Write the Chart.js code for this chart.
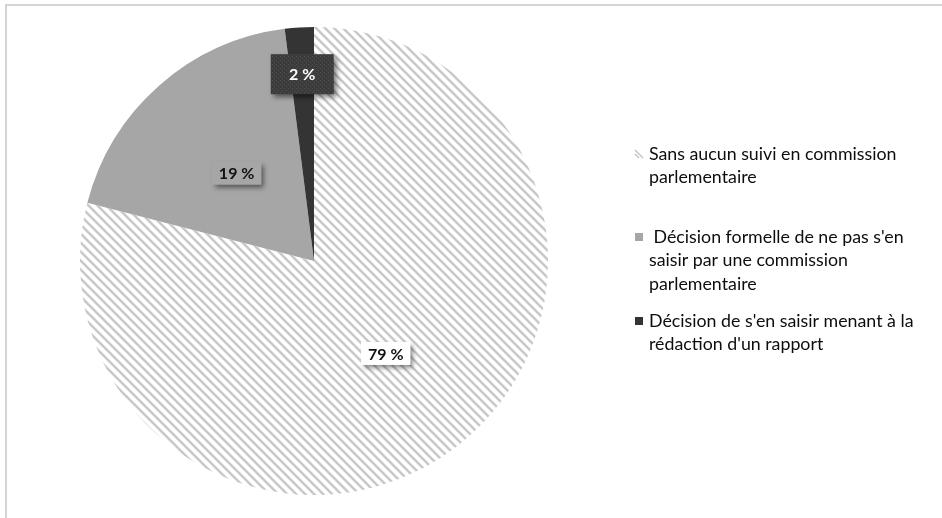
<!DOCTYPE html>
<html>
<head>
<meta charset="utf-8">
<script src="https://cdn.jsdelivr.net/npm/chart.js@4/dist/chart.umd.min.js"></script>
<style>
  html, body { margin: 0; padding: 0; background: #fff; }
  #wrap { position: relative; width: 942px; height: 518px; }
  #frame { position: absolute; left: 5px; top: 4px; width: 935px; height: 520px;
           border: 1px solid #d4d4d4; border-bottom: none; border-width: 2px 1px 0 2px; }
  canvas { position: absolute; left: 0; top: 0; }
</style>
</head>
<body>
<div id="wrap">
  <div id="frame"></div>
  <canvas id="pie" width="942" height="518"></canvas>
</div>
<script>
const categories = [
  ["Sans aucun suivi en commission", "parlementaire"],
  [" Décision formelle de ne pas s'en", "saisir par une commission", "parlementaire"],
  ["Décision de s'en saisir menant à la", "rédaction d'un rapport"]
];
const shares = [79, 19, 2];
const shareLabels = ["79 %", "19 %", "2 %"];

function hatch() {
  const c = document.createElement("canvas");
  c.width = c.height = 9;
  const g = c.getContext("2d");
  g.fillStyle = "#ffffff";
  g.fillRect(0, 0, 9, 9);
  g.strokeStyle = "#c9c9c9";
  g.lineWidth = 2.6;
  g.beginPath();
  g.moveTo(-2, -2); g.lineTo(11, 11);
  g.moveTo(-2, 7); g.lineTo(2, 11);
  g.moveTo(7, -2); g.lineTo(11, 2);
  g.stroke();
  return g.createPattern(c, "repeat");
}

function dots() {
  const c = document.createElement("canvas");
  c.width = c.height = 4;
  const g = c.getContext("2d");
  g.fillStyle = "#3c3c3c";
  g.fillRect(0, 0, 4, 4);
  g.fillStyle = "#4e4e4e";
  g.fillRect(0, 0, 1, 1);
  g.fillRect(2, 2, 1, 1);
  return g.createPattern(c, "repeat");
}

const hatchFill = hatch();
const sliceColors = [hatchFill, "#a6a6a6", "#343434"];
const boxColors = ["#ffffff", "#a6a6a6", dots()];
const textColors = ["#111111", "#111111", "#ffffff"];

const labelBoxes = {
  id: "labelBoxes",
  afterDatasetsDraw(chart) {
    const ctx = chart.ctx;
    const arcs = chart.getDatasetMeta(0).data;
    ctx.save();
    ctx.font = "bold 16px Lato, 'Open Sans', sans-serif";
    ctx.textAlign = "center";
    ctx.textBaseline = "middle";
    arcs.forEach((arc, i) => {
      const p = arc.getProps(["x", "y", "startAngle", "endAngle", "outerRadius"], true);
      const mid = (p.startAngle + p.endAngle) / 2;
      const f = shares[i] < 5 ? 0.8 : 0.5;
      const cx = p.x + Math.cos(mid) * p.outerRadius * f;
      const cy = p.y + Math.sin(mid) * p.outerRadius * f;
      const w = shares[i] < 5 ? 63 : ctx.measureText(shareLabels[i]).width + 14;
      const h = shares[i] < 5 ? 40 : 23;
      ctx.shadowColor = "rgba(0,0,0,0.5)";
      ctx.shadowBlur = 5;
      ctx.shadowOffsetX = 3;
      ctx.shadowOffsetY = 3;
      ctx.fillStyle = boxColors[i];
      ctx.fillRect(cx - w / 2, cy - h / 2, w, h);
      ctx.shadowColor = "transparent";
      ctx.fillStyle = textColors[i];
      ctx.fillText(shareLabels[i], cx, cy + 1);
    });
    ctx.restore();
  }
};

const sideLegend = {
  id: "sideLegend",
  afterDraw(chart) {
    const ctx = chart.ctx;
    const tops = [160, 243, 327];
    ctx.save();
    ctx.font = "17.8px Lato, 'Open Sans', sans-serif";
    ctx.textBaseline = "alphabetic";
    ctx.textAlign = "left";
    chart.data.labels.forEach((lines, i) => {
      const y = tops[i];
      ctx.fillStyle = i === 0 ? "#ffffff" : sliceColors[i];
      ctx.fillRect(635, y - 10, 8, 8);
      if (i === 0) {
        ctx.strokeStyle = "#c4c4c4";
        ctx.lineWidth = 1.5;
        ctx.beginPath();
        ctx.moveTo(635, y - 10); ctx.lineTo(643, y - 2);
        ctx.moveTo(635, y - 6); ctx.lineTo(639, y - 2);
        ctx.stroke();
      }
      ctx.fillStyle = "#0d0d0d";
      lines.forEach((t, k) => ctx.fillText(t, 649, y + k * 23.3));
    });
    ctx.restore();
  }
};

new Chart(document.getElementById("pie"), {
  type: "pie",
  data: {
    labels: categories,
    datasets: [{
      data: shares,
      backgroundColor: sliceColors,
      borderWidth: 0
    }]
  },
  options: {
    responsive: false,
    animation: false,
    layout: { padding: { left: 80, right: 394, top: 27, bottom: 23 } },
    plugins: {
      legend: { display: false },
      tooltip: { enabled: false }
    }
  },
  plugins: [labelBoxes, sideLegend]
});
</script>
</body>
</html>
